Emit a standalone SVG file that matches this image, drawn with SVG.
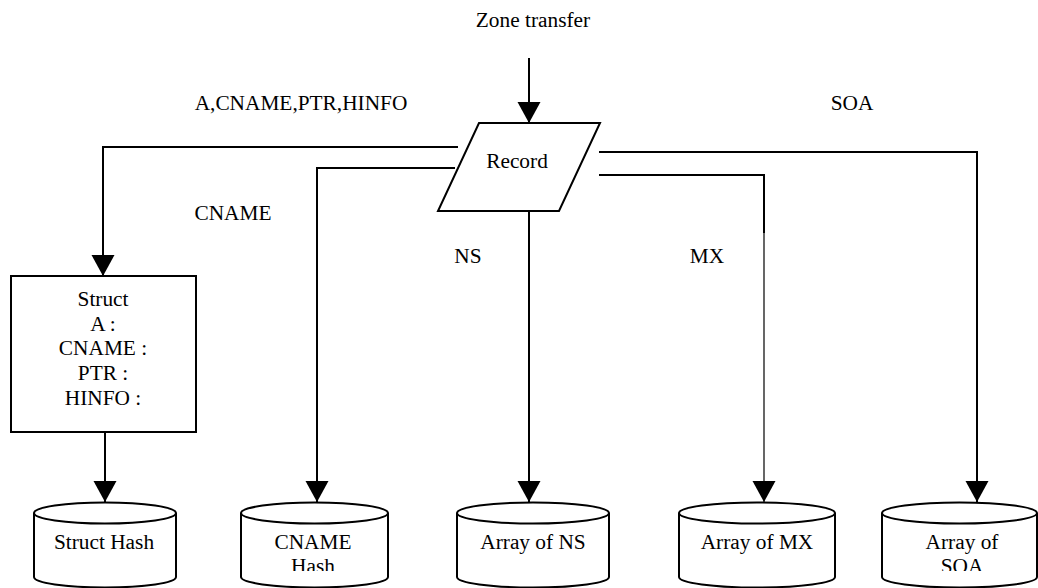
<svg xmlns="http://www.w3.org/2000/svg" width="1038" height="588" viewBox="0 0 1038 588">
<style>
text{font-family:"Liberation Serif",Tinos,"Times New Roman",Times,"Nimbus Roman","Nimbus Roman No9 L","Noto Serif","DejaVu Serif",FreeSerif,serif;font-size:21.33px;fill:#000;text-anchor:middle}
.ln{fill:none;stroke:#000;stroke-width:2}
.shape{fill:#fff;stroke:#000;stroke-width:2}
</style>
<defs>
<marker id="arr" markerUnits="userSpaceOnUse" markerWidth="24" markerHeight="24" viewBox="0 0 22 24" refX="21" refY="11.5" orient="auto">
<path d="M0,0 L21,11.5 L0,23 Z" fill="#000"/>
</marker>
<clipPath id="cyltext"><rect x="0" y="490" width="1038" height="81"/></clipPath>
</defs>
<rect width="1038" height="588" fill="#fff"/>
<g id="connectors">
<line class="ln" x1="529" y1="58" x2="529" y2="123" marker-end="url(#arr)"/>
<polyline class="ln" points="458,147 103,147 103,276" marker-end="url(#arr)"/>
<polyline class="ln" points="455,168 317,168 317,502" marker-end="url(#arr)"/>
<line class="ln" x1="529" y1="211" x2="529" y2="502" marker-end="url(#arr)"/>
<polyline class="ln" points="599,175 764,175 764,233"/>
<line x1="764" y1="233" x2="764" y2="502" stroke="#000" stroke-width="1.2" marker-end="url(#arr)"/>
<polyline class="ln" points="599,152 977,152 977,502" marker-end="url(#arr)"/>
<line class="ln" x1="105" y1="432" x2="105" y2="502" marker-end="url(#arr)"/>
</g>
<g id="labels">
<text x="533" y="27">Zone transfer</text>
<text x="301" y="110">A,CNAME,PTR,HINFO</text>
<text x="852" y="110">SOA</text>
<text x="233" y="220">CNAME</text>
<text x="468" y="263">NS</text>
<text x="707" y="263">MX</text>
</g>
<g id="record">
<polygon class="shape" points="479,123 600,123 559,211 438,211"/>
<text x="517" y="168">Record</text>
</g>
<g id="struct">
<rect class="shape" x="11" y="276" width="185" height="156"/>
<text x="103" y="306">Struct</text>
<text x="103" y="331">A :</text>
<text x="103" y="355">CNAME :</text>
<text x="103" y="380">PTR :</text>
<text x="103" y="405">HINFO :</text>
</g>
<g id="struct-hash">
<path class="shape" d="M34,513 L34,577 A71,10.5 0 0 0 176,577 L176,513"/>
<ellipse class="shape" cx="105" cy="513" rx="71" ry="10.5"/>
<text x="104" y="549">Struct Hash</text>
</g>
<g id="cname-hash">
<path class="shape" d="M241,513 L241,577 A73.5,10.5 0 0 0 388,577 L388,513"/>
<ellipse class="shape" cx="314.5" cy="513" rx="73.5" ry="10.5"/>
<g clip-path="url(#cyltext)"><text x="313" y="549">CNAME</text><text x="313" y="573">Hash</text></g>
</g>
<g id="array-ns">
<path class="shape" d="M457,513 L457,577 A76,10.5 0 0 0 609,577 L609,513"/>
<ellipse class="shape" cx="533" cy="513" rx="76" ry="10.5"/>
<text x="533" y="549">Array of NS</text>
</g>
<g id="array-mx">
<path class="shape" d="M679,513 L679,577 A78,10.5 0 0 0 835,577 L835,513"/>
<ellipse class="shape" cx="757" cy="513" rx="78" ry="10.5"/>
<text x="757" y="549">Array of MX</text>
</g>
<g id="array-soa">
<path class="shape" d="M882,513 L882,577 A77.5,10.5 0 0 0 1037,577 L1037,513"/>
<ellipse class="shape" cx="959.5" cy="513" rx="77.5" ry="10.5"/>
<g clip-path="url(#cyltext)"><text x="962" y="549">Array of</text><text x="962" y="573">SOA</text></g>
</g>
</svg>
